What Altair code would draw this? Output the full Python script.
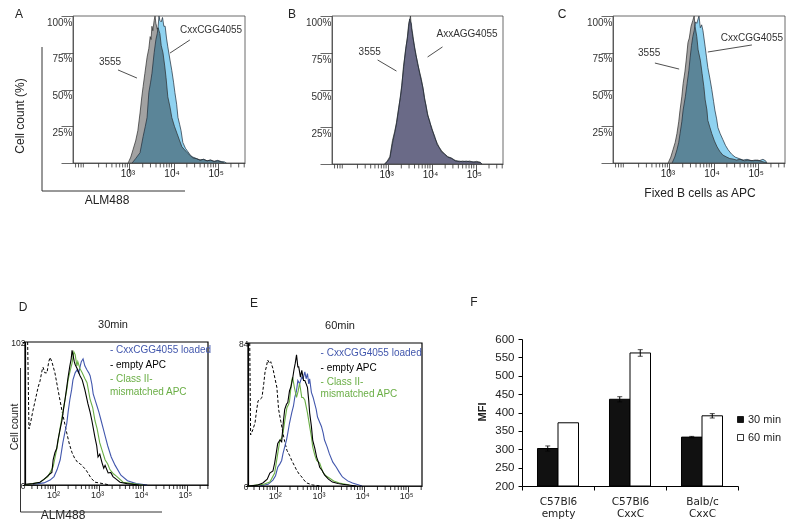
import math
import altair as alt
import pandas as pd

FONT = "Liberation Sans"
W, H = 783, 513
GRAY = "#a2a2a2"
SKY = "#8fd2f0"
LAV = "#a6a6d4"
BLUE = "#4257ad"
GREEN = "#6aae45"

# ---------------- Panel A (x = log10 ALM488, y = % of max) ----------------
a_x_3555 = [2.97,3.03,3.08,3.14,3.19,3.24,3.28,3.31,3.35,3.40,3.44,3.47,3.49,3.51,3.53,3.56,3.58,3.60,3.63,3.65,
            3.69,3.72,3.76,3.80,3.83,3.87,3.92,3.96,4.02,4.08,4.14,4.19,4.25,4.31,4.38,4.44,4.52,4.60,4.68,4.76,
            4.84,4.92,5.00,5.08,5.15]
a_y_3555 = [0,4,9,15,22,34,45,52,61,72,78,86,84,93,90,97,100,95,91,92,
            88,80,75,66,58,45,38,31,25,20,15,11,9,7,5,3.4,3,2,2.5,1.5,
            2,1,1.5,0.8,0]
a_x_cxxc = [3.06,3.14,3.24,3.31,3.36,3.40,3.44,3.48,3.51,3.56,3.60,3.63,3.65,3.67,3.69,3.72,3.75,3.78,3.81,3.84,
            3.87,3.92,3.96,4.00,4.03,4.07,4.10,4.14,4.17,4.21,4.27,4.33,4.39,4.44,4.52,4.60,4.68,4.76,4.84,4.92,
            5.00,5.08,5.15,5.20]
a_y_cxxc = [0,3,7,18,25,31,48,55,61,75,84,88,93,100,97,96,99,93,93,85,
            79,70,63,55,48,40,31,26,22,14,10,7.5,5,4,3,2,2.5,1.5,2,1.2,
            1.8,1,0.8,0]

# ---------------- Panel B ----------------
b_x = [2.92,2.98,3.04,3.10,3.15,3.19,3.24,3.28,3.31,3.35,3.40,3.44,3.47,3.49,3.51,3.53,3.56,3.60,3.63,3.67,
       3.72,3.76,3.80,3.83,3.87,3.90,3.95,3.99,4.06,4.12,4.17,4.22,4.28,4.36,4.44,4.53,4.62,4.70,4.78,4.86,
       4.94,5.02,5.10,5.14]
b_y_3555 = [0,2,5,16,22,28,38,45,52,66,77,86,95,97,100,92,88,79,75,68,
            62,57,50,45,38,34,28,25,18,14,11,9,7,5,4,2.5,1.5,2,1.5,2,
            1.2,1.8,1,0]
b_y_axxa = [0,1.5,4,14,21,27,37,46,53,64,78,85,93,98,96,95,86,80,74,69,
            61,56,51,44,39,33,29,24,19,13,11,8,7,4.5,4,2,2,1.5,2,1.5,
            1.5,1.2,1.2,0]

# ---------------- Panel C ----------------
c_x_3555 = [2.97,3.03,3.08,3.13,3.17,3.21,3.24,3.28,3.31,3.35,3.38,3.42,3.45,3.49,3.53,3.56,3.58,3.62,3.65,3.70,
            3.74,3.78,3.81,3.85,3.87,3.92,3.96,4.02,4.08,4.14,4.21,4.30,4.37,4.44,4.52,4.60,4.70,4.80,4.90,5.00,
            5.10,5.21]
c_y_3555 = [0,4,9,14,20,28,36,45,54,62,70,82,85,93,97,100,93,86,77,70,
            61,52,43,36,29,24,20,15,11,8,5.4,4,3,2.7,2,2.5,1.5,2,1.5,2,
            1,0]
c_x_cxxc = [3.06,3.12,3.17,3.21,3.24,3.28,3.31,3.36,3.40,3.44,3.47,3.50,3.53,3.56,3.59,3.62,3.65,3.67,3.70,3.73,
            3.76,3.81,3.84,3.87,3.92,3.96,4.00,4.03,4.07,4.10,4.15,4.21,4.27,4.33,4.41,4.49,4.58,4.67,4.76,4.85,
            4.94,5.03,5.12,5.18,5.21]
c_y_cxxc = [0,4,9,14,20,28,36,45,54,63,72,80,86,90,96,95,98,100,92,94,
            90,79,72,65,57,50,42,36,30,24,20,16,12,9,6,4,3,2,2.5,1.5,
            2,1.5,2.5,1.5,0]

# ---------------- Panel D (30 min, cell count) ----------------
d_x_dash = [1.38,1.41,1.45,1.50,1.55,1.62,1.66,1.71,1.73,1.77,1.82,1.86,1.89,1.93,2.00,2.07,2.16,2.27,2.33,2.39,
            2.45,2.52,2.58,2.64,2.70,2.75,2.82,2.91,3.02,3.12,3.25]
d_y_dash = [102,40,45,53,60,70,74,82,84,80,80,88,91,88,80,68,53,37,29,23,
            19,16,15,13,11,8.6,5,2,1.4,0.8,0]
d_x_empty = [1.32,1.50,1.66,1.75,1.82,1.89,1.93,1.96,2.00,2.04,2.07,2.12,2.16,2.20,2.23,2.27,2.30,2.34,2.37,2.39,
             2.41,2.44,2.46,2.49,2.52,2.57,2.62,2.68,2.75,2.80,2.84,2.91,2.95,2.98,3.02,3.07,3.11,3.14,3.21,3.27,
             3.32,3.40,3.48,3.64,3.90]
d_y_empty = [0.5,1,2,4,6,8,9,18,23,26,32,40,46,55,61,70,77,85,90,96,
             93,88,86,84,82,78,75,68,58,52,46,34,28,20,22,16,12,14,8.6,9,
             6,4,2,1,0]
d_x_mism = [1.32,1.66,1.84,1.96,2.05,2.12,2.18,2.23,2.27,2.30,2.35,2.39,2.43,2.46,2.50,2.52,2.57,2.62,2.68,2.73,
            2.80,2.86,2.91,2.96,3.02,3.08,3.14,3.20,3.25,3.33,3.41,3.55,3.77,4.00]
d_y_mism = [0,2,6,13,27,41,52,61,68,75,82,87,95,93,85,88,83,80,76,73,
            61,55,46,40,30,24,18,15,11,8,6,2,1,0]
d_x_load = [1.50,1.75,1.89,1.98,2.05,2.12,2.18,2.23,2.27,2.30,2.34,2.38,2.41,2.46,2.50,2.54,2.57,2.60,2.64,2.68,
            2.73,2.77,2.80,2.84,2.87,2.92,2.96,3.00,3.05,3.10,3.15,3.20,3.28,3.37,3.50,3.65,3.85,4.10]
d_y_load = [0.5,1.5,3.5,6,11,18,30,38,44,52,61,68,75,80,82,80,84,88,90,85,
            82,80,78,72,65,60,56,52,46,40,34,28,20,14,7,3,1,0]

# ---------------- Panel E (60 min, cell count) ----------------
e_x_dash = [1.38,1.40,1.45,1.50,1.54,1.57,1.62,1.66,1.70,1.73,1.76,1.79,1.83,1.86,1.91,1.95,2.00,2.04,2.09,2.14,
            2.18,2.23,2.29,2.34,2.40,2.45,2.51,2.57,2.62,2.68,2.82,3.00]
e_y_dash = [84,30,33,37,45,50,51,52,60,67,70,74,72,73,69,64,58,45,38,31,
            26,21,18,15,12,9.4,7,5.3,3.5,1.8,0.6,0]
e_x_empty = [1.34,1.55,1.68,1.78,1.84,1.91,1.95,2.02,2.07,2.11,2.15,2.18,2.22,2.25,2.29,2.32,2.36,2.39,2.42,2.45,
             2.48,2.50,2.54,2.57,2.61,2.64,2.67,2.70,2.73,2.75,2.79,2.82,2.87,2.91,2.95,2.98,3.04,3.09,3.18,3.27,
             3.40,3.50,3.82]
e_y_empty = [0,0.5,1.8,4,7.6,8.8,13.5,25,27,26,38,45,48,49,56,58,63,68,72,77,
             70,70,64,68,62,62,60,58,50,43,35,27,22,17,14,11,9,6.5,4,2.3,
             1.5,1,0]
e_x_mism = [1.34,1.70,1.84,1.95,2.02,2.07,2.11,2.14,2.18,2.23,2.27,2.29,2.34,2.36,2.40,2.45,2.49,2.52,2.57,2.60,
            2.64,2.70,2.75,2.79,2.82,2.87,2.91,2.98,3.05,3.12,3.20,3.30,3.43,3.66]
e_y_mism = [0,1,2.3,7.6,19,27,28,31,38,46,48,50,62,64,58,52,56,60.5,52,52,
            50.5,43,35,29,23,18,15,13.5,8.2,6,4.7,3,1.8,0.6]
e_x_load = [1.60,1.80,1.91,1.97,2.02,2.07,2.11,2.14,2.18,2.22,2.25,2.29,2.34,2.38,2.41,2.45,2.48,2.52,2.57,2.60,
            2.64,2.67,2.70,2.73,2.75,2.79,2.83,2.86,2.90,2.93,2.97,3.02,3.06,3.09,3.15,3.20,3.28,3.36,3.43,3.50,
            3.62,3.73,3.95]
e_y_load = [0,1,3.5,6,11,13,15,19,23,27,31,37,43,47,52,56,62,60,64,63,
            67,63,66,60,63,55,52,49,45,40.5,38,35,31,27,23,19,14,11,8,5.3,
            3,1.8,0]

# ---------------- Panel F (MFI bars) ----------------
f_groups = ["C57Bl6|empty", "C57Bl6|CxxC", "Balb/c|CxxC"]
f_times = ["30 min", "60 min"]
f_mfi_30 = [302, 436, 333]
f_err_30 = [7, 7, 2]
f_mfi_60 = [372, 562, 391]
f_err_60 = [0, 9, 6]

# ======================= helpers =======================
ONE = alt.Data(values=[{}])
SUP = "['\u2070','\u00b9','\u00b2','\u00b3','\u2074','\u2075'][datum.value]"


def curve(xs, ys):
    return pd.DataFrame({"x": xs, "y": ys})


def qs(dom, rng):
    return alt.Scale(domain=dom, range=rng, nice=False, zero=False)


def minor_ticks(lo, hi):
    out = []
    for d in range(0, 6):
        for k in range(2, 10):
            v = math.log10(k * 10 ** d)
            if lo < v < hi:
                out.append(v)
    return out


def log_xaxis(off, vals, tick, pad, fs, col="#333"):
    return alt.Axis(orient="bottom", offset=off, values=vals, tickSize=tick, labelPadding=pad,
                    labelOffset=-2, labelFont=FONT, labelFontSize=fs, labelColor="#222",
                    labelExpr="'10' + " + SUP, labelOverlap=False, labelFlush=False, labelBound=False,
                    title=None, grid=False, domainColor=col, tickColor=col, tickWidth=0.8, domainWidth=0.8)


def pct_yaxis(off):
    return alt.Axis(orient="left", offset=off, values=[0, 25, 50, 75, 100], tickSize=12, labelPadding=-11,
                    labelBaseline="top", labelOffset=1, labelAlign="right", labelFont=FONT, labelFontSize=10,
                    labelColor="#333", labelExpr="datum.value == 0 ? '' : datum.value + '%'",
                    labelOverlap=False, labelFlush=False, labelBound=False, title=None, grid=False,
                    domainColor="#444", tickColor="#444", tickWidth=0.8, domainWidth=0.8)


def cnt_yaxis(off, top):
    return alt.Axis(orient="left", offset=off, values=[0, top], tickSize=3, labelPadding=-3,
                    labelFont=FONT, labelFontSize=8.5, labelColor="#222", labelOverlap=False,
                    labelFlush=False, labelBound=False, title=None, grid=False,
                    domainColor="black", tickColor="black", domainWidth=1.2)


class P:
    def __init__(self, sx, ax, sy, ay):
        self.sx, self.ax, self.sy, self.ay = sx, ax, sy, ay

    def X(self, f="x"):
        return alt.X(f + ":Q", scale=self.sx, axis=self.ax)

    def Y(self, f="y"):
        return alt.Y(f + ":Q", scale=self.sy, axis=self.ay)

    def XD(self, v):
        return alt.XDatum(v, type="quantitative", scale=self.sx, axis=self.ax)

    def YD(self, v):
        return alt.YDatum(v, type="quantitative", scale=self.sy, axis=self.ay)

    def area(self, xs, ys, color, **kw):
        return alt.Chart(curve(xs, ys)).mark_area(color=color, **kw).encode(x=self.X(), y=self.Y())

    def line(self, xs, ys, color, **kw):
        return alt.Chart(curve(xs, ys)).mark_line(color=color, **kw).encode(x=self.X(), y=self.Y())

    def text(self, t, xv, yv, **kw):
        kw.setdefault("font", FONT)
        return alt.Chart(ONE).mark_text(text=t, **kw).encode(x=self.XD(xv), y=self.YD(yv))

    def seg(self, x1, y1, x2, y2, **kw):
        return alt.Chart(ONE).mark_rule(**kw).encode(x=self.XD(x1), y=self.YD(y1),
                                                     x2=alt.X2Datum(x2), y2=alt.Y2Datum(y2))

    def box(self, x0, x1, y0, y1, **kw):
        return alt.Chart(ONE).mark_rect(fillOpacity=0, **kw).encode(
            x=self.XD(x0), x2=alt.X2Datum(x1), y=self.YD(y0), y2=alt.Y2Datum(y1))

    def minors(self, lo, hi, dy, **kw):
        return alt.Chart(pd.DataFrame({"x": minor_ticks(lo, hi)})).mark_rule(**kw).encode(
            x=self.X(), y=self.YD(0), y2=alt.Y2Datum(dy))


# ======================= panels A, B, C =======================
def facs_panel(xr, yr, xoff, yoff, curves, colors, blend_second, notes):
    dom = [1.72, 5.62]
    p = P(qs(dom, xr), log_xaxis(xoff, [3, 4, 5], 10, -5, 10), qs([0, 100], yr), pct_yaxis(yoff))
    (x1, y1), (x2, y2) = curves
    layers = [
        p.area(x1, y1, colors[0]),
        p.area(x2, y2, colors[1], blend=blend_second),
        p.line(x1, y1, "#2a2a2a", strokeWidth=0.7),
        p.line(x2, y2, "#1e2a36", strokeWidth=0.7),
        p.minors(dom[0], dom[1], -3, color="#333", strokeWidth=0.8),
        p.box(dom[0], dom[1], 0, 100, stroke="#444", strokeWidth=0.8),
    ]
    for (t, tx, ty, lx1, ly1, lx2, ly2) in notes:
        layers.append(p.text(t, tx, ty, fontSize=10, color="#333"))
        layers.append(p.seg(lx1, ly1, lx2, ly2, color="#222", strokeWidth=0.8))
    return alt.layer(*layers)


panelA = facs_panel([65, 237], [155, 8], -358, -65,
                    [(a_x_3555, a_y_3555), (a_x_cxxc, a_y_cxxc)], [GRAY, SKY], "multiply",
                    [("3555", 2.56, 68.7, 2.74, 63.3, 3.17, 57.8),
                     ("CxxCGG4055", 4.85, 90.5, 4.37, 83.7, 3.92, 74.8)])
panelB = facs_panel([324, 495], [156, 8], -357, -324,
                    [(b_x, b_y_3555), (b_x, b_y_axxa)], [GRAY, LAV], "multiply",
                    [("3555", 2.58, 75.7, 2.76, 70.3, 3.19, 62.8),
                     ("AxxAGG4055", 4.80, 87.8, 4.24, 79.1, 3.90, 72.3)])
panelC = facs_panel([605, 777], [155, 8], -358, -605,
                    [(c_x_3555, c_y_3555), (c_x_cxxc, c_y_cxxc)], [GRAY, SKY], "multiply",
                    [("3555", 2.54, 74.8, 2.67, 68.0, 3.22, 63.9),
                     ("CxxCGG4055", 4.87, 85.0, 4.87, 80.3, 3.87, 75.5)])


# ======================= panels D, E =======================
def kin_panel(dom, xr, yr, top, xoff, yoff, dash, load, mism, empty, legx, legy):
    p = P(qs(dom, xr), log_xaxis(xoff, [2, 3, 4, 5], 6, -1, 9, col="black"),
          qs([0, top], yr), cnt_yaxis(yoff, top))
    layers = [
        p.line(dash[0], dash[1], "black", strokeWidth=1, strokeDash=[3, 2]),
        p.line(load[0], load[1], BLUE, strokeWidth=1.1),
        p.line(mism[0], mism[1], GREEN, strokeWidth=1.1),
        p.line(empty[0], empty[1], "black", strokeWidth=1.1),
        p.minors(dom[0], dom[1], -top * 0.028, color="black", strokeWidth=0.8),
        p.box(dom[0], dom[1], 0, top, stroke="black", strokeWidth=1.2),
        p.text("- CxxCGG4055 loaded", legx, legy[0], fontSize=10, align="left", color=BLUE),
        p.text("- empty APC", legx, legy[1], fontSize=10, align="left", color="black"),
        p.text("- Class II-", legx, legy[2], fontSize=10, align="left", color=GREEN),
        p.text("mismatched APC", legx, legy[3], fontSize=10, align="left", color=GREEN),
    ]
    return alt.layer(*layers)


panelD = kin_panel([1.32, 5.48], [17, 200], [477, 334], 102, -36, -17,
                   (d_x_dash, d_y_dash), (d_x_load, d_y_load), (d_x_mism, d_y_mism), (d_x_empty, d_y_empty),
                   3.25, [96.3, 85.6, 75.6, 66.3])
panelE = kin_panel([1.34, 5.32], [240, 414], [478, 335], 84, -35, -240,
                   (e_x_dash, e_y_dash), (e_x_load, e_y_load), (e_x_mism, e_y_mism), (e_x_empty, e_y_empty),
                   3.00, [78.1, 69.3, 61.1, 54.0])

# ======================= panel F =======================
rows = []
for g, m30, s30, m60, s60 in zip(f_groups, f_mfi_30, f_err_30, f_mfi_60, f_err_60):
    rows.append({"group": g, "time": f_times[0], "mfi": m30, "lo": m30 - s30, "hi": m30 + s30, "err": s30})
    rows.append({"group": g, "time": f_times[1], "mfi": m60, "lo": m60 - s60, "hi": m60 + s60, "err": s60})
fdf = pd.DataFrame(rows)

fx = alt.X("group:N", sort=f_groups,
           scale=alt.Scale(domain=f_groups, range=[514, 730], paddingInner=0, paddingOuter=0),
           axis=alt.Axis(orient="bottom", offset=-35, tickBand="extent", labelExpr="split(datum.label, '|')",
                         labelFont="DejaVu Sans", labelFontSize=10.5, labelLineHeight=12, labelAngle=0,
                         tickSize=4, labelPadding=6, labelColor="#222", title=None, grid=False,
                         domainColor="black", tickColor="black"))
fxo = alt.XOffset("time:N", scale=alt.Scale(domain=f_times, paddingInner=0, paddingOuter=0.756))
fy_scale = alt.Scale(domain=[200, 600], range=[478, 331], nice=False, zero=False)
fy_axis = alt.Axis(orient="left", offset=-514, values=list(range(200, 601, 50)), tickSize=4, labelPadding=4,
                   labelFont=FONT, labelFontSize=11.5, labelColor="#222", title=None, grid=False,
                   domainColor="black", tickColor="black")

bars = alt.Chart(fdf).mark_bar(stroke="black", strokeWidth=1).encode(
    x=fx, xOffset=fxo,
    y=alt.Y("mfi:Q", scale=fy_scale, axis=fy_axis),
    y2=alt.Y2Datum(200),
    fill=alt.Fill("time:N", scale=alt.Scale(domain=f_times, range=["#111111", "#ffffff"]),
                  legend=alt.Legend(orient="none", legendX=727, legendY=406, title=None, symbolType="square",
                                    symbolSize=36, symbolStrokeColor="black", symbolStrokeWidth=0.8,
                                    labelFont=FONT, labelFontSize=11, labelColor="#222", rowPadding=6,
                                    padding=0, labelOffset=2)))
errs = fdf[fdf["err"] > 0]
err_rule = alt.Chart(errs).mark_rule(color="black", strokeWidth=1).encode(
    x=fx, xOffset=fxo, y=alt.Y("lo:Q", scale=fy_scale, axis=fy_axis), y2="hi:Q")
err_cap_hi = alt.Chart(errs).mark_tick(color="black", thickness=1, size=5).encode(
    x=fx, xOffset=fxo, y=alt.Y("hi:Q", scale=fy_scale, axis=fy_axis))
err_cap_lo = alt.Chart(errs).mark_tick(color="black", thickness=1, size=5).encode(
    x=fx, xOffset=fxo, y=alt.Y("lo:Q", scale=fy_scale, axis=fy_axis))
panelF = alt.layer(bars, err_rule, err_cap_hi, err_cap_lo)


# ======================= free labels & outer frames =======================
def label(t, x, y, **kw):
    kw.setdefault("font", FONT)
    kw.setdefault("fontSize", 12)
    kw.setdefault("color", "#222")
    return alt.Chart(ONE).mark_text(text=t, **kw).encode(x=alt.value(x), y=alt.value(y))


def vline(x, y1, y2):
    return alt.Chart(ONE).mark_rule(color="#333", strokeWidth=1).encode(
        x=alt.value(x), y=alt.value(y1), y2=alt.value(y2))


def hline(x1, x2, y):
    return alt.Chart(ONE).mark_rule(color="#333", strokeWidth=1).encode(
        x=alt.value(x1), x2=alt.value(x2), y=alt.value(y))


deco = [
    label("A", 11, 1, baseline="top"),
    label("B", 284, 1, baseline="top"),
    label("C", 554, 1, baseline="top"),
    label("D", 15, 299),
    label("E", 246, 295),
    label("F", 466, 294),
    label("Cell count (%)", 12, 108, angle=270),
    label("ALM488", 99, 192),
    label("Fixed B cells as APC", 692, 185),
    label("30min", 105, 317, fontSize=11),
    label("60min", 332, 318, fontSize=11),
    label("Cell count", 6.5, 419, angle=270, fontSize=10.5),
    label("ALM488", 55, 507),
    label("MFI", 475, 404, angle=270, fontWeight="bold", fontSize=11),
    vline(34, 39, 183), hline(34, 177, 183),
    vline(12.5, 360, 504), hline(12.5, 154, 504),
]

chart = alt.layer(panelA, panelB, panelC, panelD, panelE, panelF, *deco).resolve_scale(
    x="independent", y="independent"
).properties(
    width=W, height=H, padding=0, autosize=alt.AutoSizeParams(type="none")
).configure_view(stroke=None)

chart.save("out.html", embed_options={"renderer": "svg", "actions": False})
